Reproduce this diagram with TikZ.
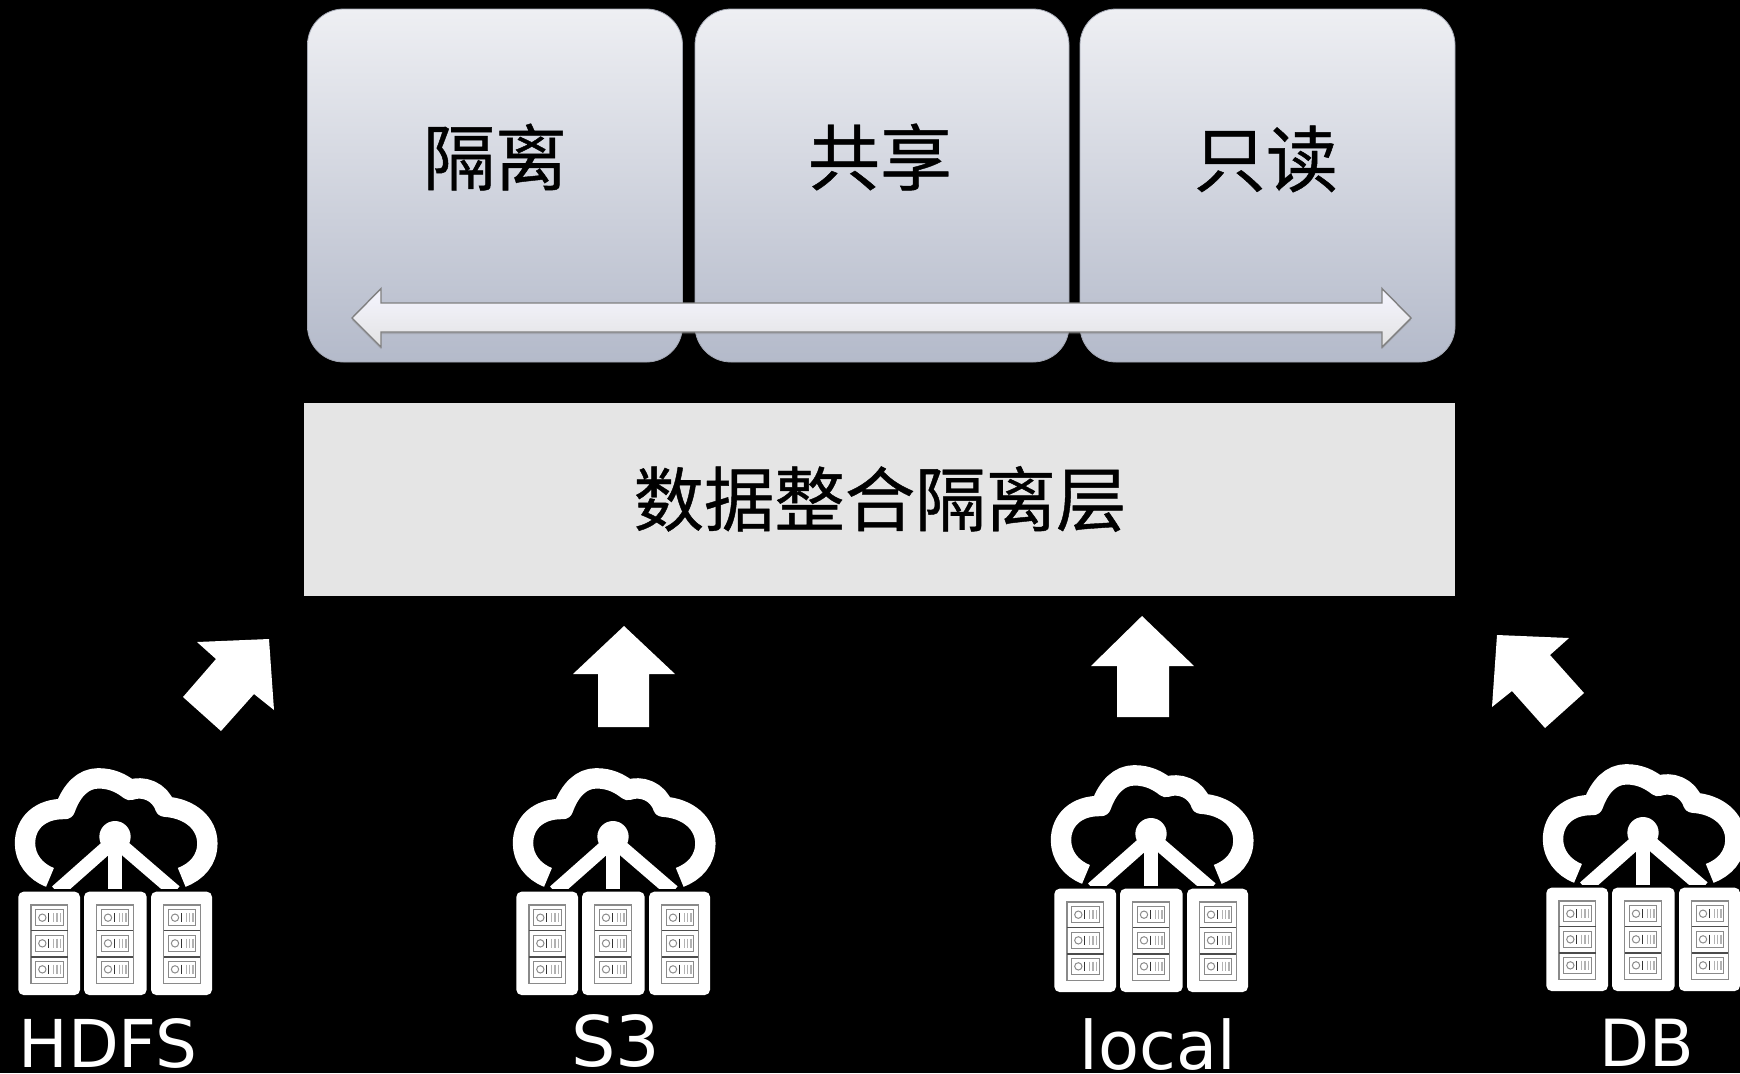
\documentclass[tikz,border=0pt]{standalone}
\usepackage{fontspec}
\setmainfont{DejaVu Sans}
\newfontfamily\cjk[FakeBold=0.6]{Noto Sans CJK SC}
\usetikzlibrary{shadows}
\definecolor{boxtop}{HTML}{EEEFF3}
\definecolor{boxbot}{HTML}{B4BACA}
\definecolor{slotgray}{HTML}{8A8A8A}
\tikzset{
  panel/.style={draw=boxbot!70!gray,line width=0.4pt,rounded corners=18pt,top color=boxtop,bottom color=boxbot},
  toplabel/.style={font=\cjk\fontsize{36}{42}\selectfont,text=black,inner sep=0pt},
  layerbox/.style={fill=black!10,draw=none},
  layerlabel/.style={font=\cjk\fontsize{35.2}{42}\selectfont,text=black,inner sep=0pt},
  srclabel/.style={font=\fontsize{33}{38}\selectfont,text=white,inner sep=0pt,anchor=base},
  doublearrow/.style={draw=black!50,line width=0.7pt,top color=white!96!blue,bottom color=black!11,drop shadow={shadow xshift=0pt,shadow yshift=-1pt,opacity=.35}},
  blockarrow/.style={fill=white,draw=none},
  cloudrack/.pic={
    \begin{scope}[x=0.16667pt,y=-0.16667pt]
      \draw[white,line width=10.2pt,line join=round]
        (150,412) .. controls (105,395) and (75,355) .. (75,310)
        .. controls (75,250) and (120,205) .. (195,207)
        .. controls (215,150) and (250,115) .. (295,115)
        .. controls (335,115) and (365,130) .. (390,150)
        .. controls (430,135) and (480,155) .. (495,200)
        .. controls (570,205) and (622,250) .. (622,310)
        .. controls (622,360) and (590,395) .. (545,412);
      \begin{scope}
        \clip (100,200) rectangle (600,445);
        \fill[white] (345,290) circle (47);
        \draw[white,line width=7pt] (345,300) -- (170,455);
        \draw[white,line width=7pt] (345,300) -- (345,455);
        \draw[white,line width=7pt] (345,300) -- (525,455);
      \end{scope}
      \foreach \rx/\rw in {55/185,252/188,453/183}{
        \fill[white,rounded corners=2.6pt] (\rx,455) rectangle ++(\rw,310);
        \begin{scope}[shift={(\rx,0)}]
          \draw[slotgray,line width=0.7pt] (38,495) rectangle (148,730);
          \draw[black!70,line width=0.8pt] (38,572) -- (148,572);
          \draw[black!70,line width=1.1pt] (38,650) -- (148,650);
          \foreach \sy in {533,610,688}{
            \draw[slotgray,line width=0.45pt] (52,\sy-24) rectangle (134,\sy+24);
            \draw[black!45,line width=0.5pt] (72,\sy) circle (11);
            \draw[black!80,line width=0.5pt] (90,\sy-14) -- (90,\sy+14);
            \foreach \bx in {106,116,126}{
              \draw[black!30,line width=0.6pt] (\bx,\sy-14) -- (\bx,\sy+14);
            }
          }
        \end{scope}
      }
    \end{scope}
  }
}
\begin{document}
\begin{tikzpicture}[x=0.5pt,y=-0.5pt]
  \useasboundingbox (0,0) rectangle (1740,1073);
  \fill[black] (0,0) rectangle (1740,1073);
  \clip (0,0) rectangle (1740,1073);

  % top panels
  \path[panel] (307.5,9) rectangle (682.5,362);
  \path[panel] (695,9) rectangle (1069,362);
  \path[panel] (1080,9) rectangle (1455,362);
  \node[toplabel] (isolate) at (495,157) {隔离};
  \node[toplabel] (share) at (880,157) {共享};
  \node[toplabel] (readonly) at (1266,159) {只读};

  % double arrow
  \path[doublearrow] (352,318) -- (381,288.5) -- (381,303) -- (1382,303) -- (1382,288.5)
     -- (1411,318) -- (1382,347) -- (1382,332) -- (381,332) -- (381,347) -- cycle;

  % layer
  \path[layerbox] (304,403) rectangle (1455,596);
  \node[layerlabel] (layer) at (880,499) {数据整合隔离层};

  % block arrows
  \fill[blockarrow] (197,642) -- (269,639) -- (274,710) -- (254,694) -- (221,731) -- (183,697) -- (216,659) -- cycle;
  \fill[blockarrow] (624,626) -- (675,674) -- (649,674) -- (649,727) -- (598,727) -- (598,674) -- (573,674) -- cycle;
  \fill[blockarrow] (1142,616) -- (1194,666) -- (1169,666) -- (1169,717) -- (1117,717) -- (1117,666) -- (1091,666) -- cycle;
  \fill[blockarrow] (1497,635) -- (1569,638) -- (1550,655) -- (1584,693) -- (1545,728) -- (1512,691) -- (1492,707) -- cycle;

  % source icons
  \pic at (0,740) {cloudrack};
  \pic at (498,740) {cloudrack};
  \pic at (1036,737) {cloudrack};
  \pic at (1528,736) {cloudrack};

  % labels
  \node[srclabel] (hdfs) at (108,1067) {HDFS};
  \node[srclabel,font=\fontsize{35}{40}\selectfont] (s3) at (616,1066) {S3};
  \node[srclabel,font=\fontsize{33.5}{38}\selectfont] (local) at (1158,1069) {local};
  \node[srclabel,font=\fontsize{32.5}{38}\selectfont] (db) at (1647,1066) {DB};
\end{tikzpicture}
\end{document}
